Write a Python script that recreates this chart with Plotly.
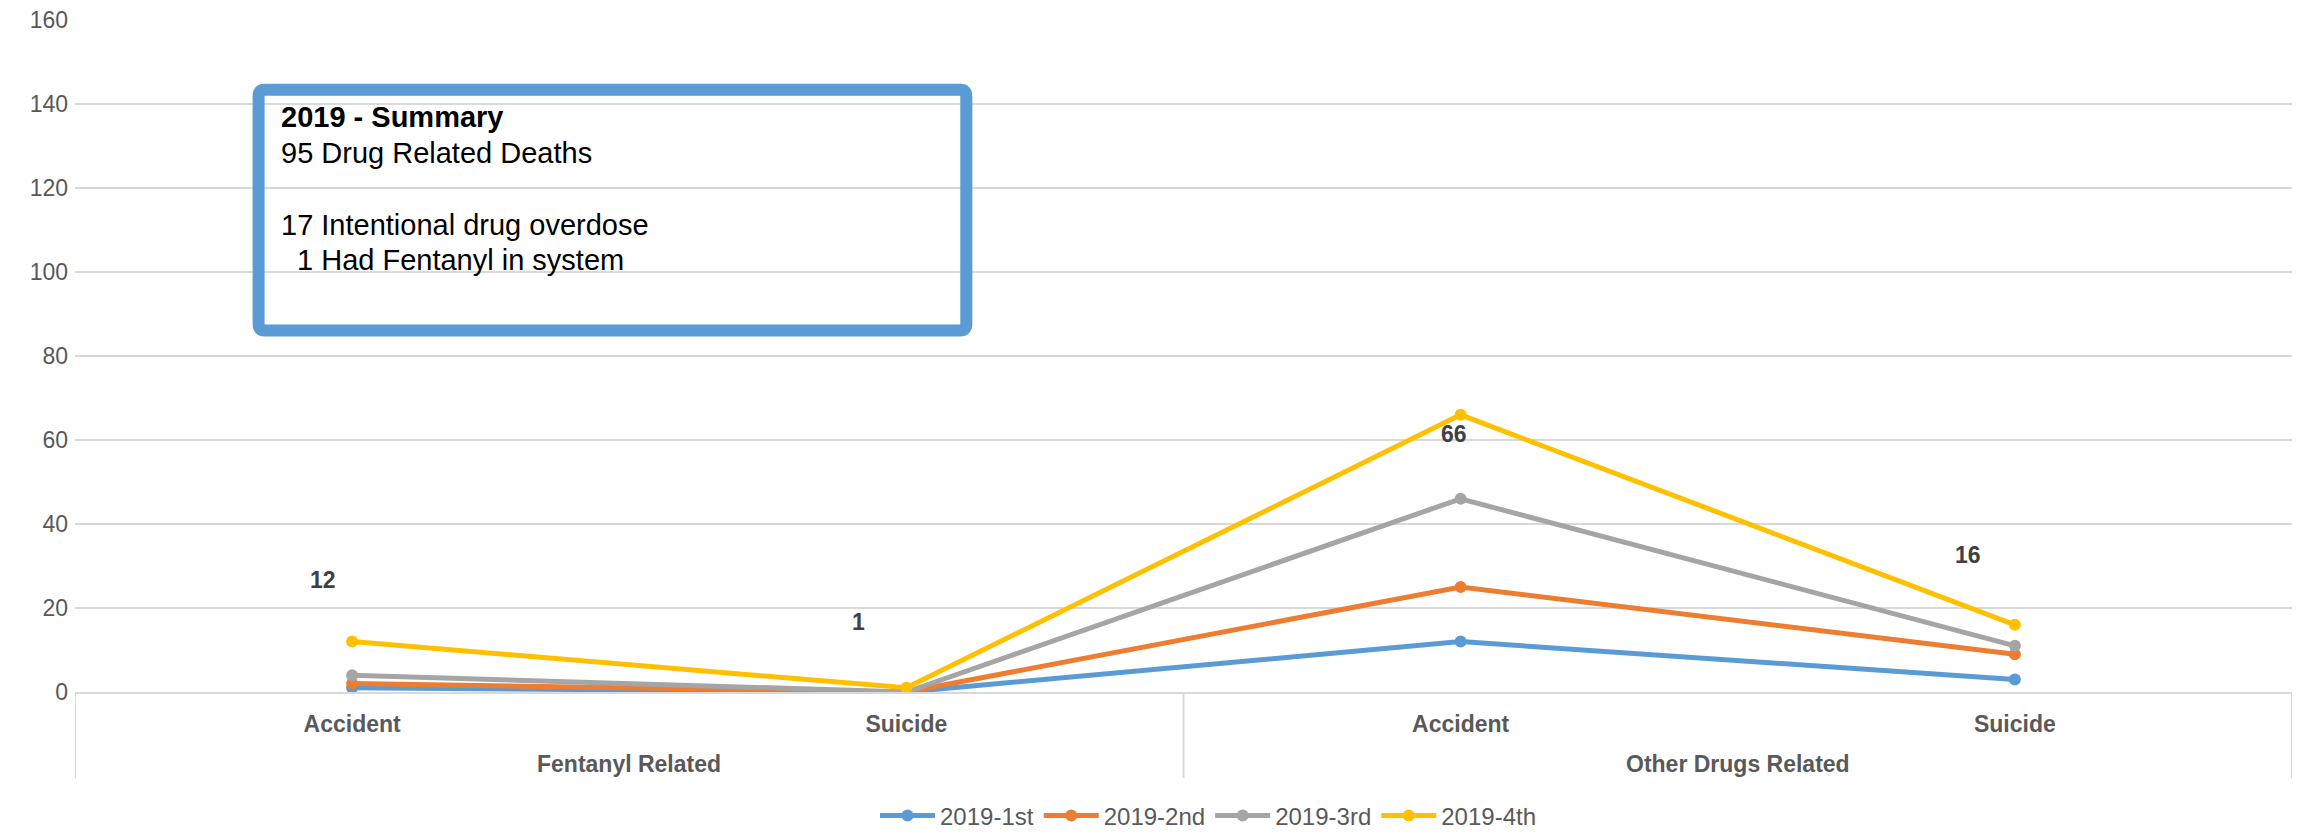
import plotly.graph_objects as go

groups = ["Fentanyl Related", "Other Drugs Related"]
categories = ["Accident", "Suicide", "Accident", "Suicide"]
series_names = ["2019-1st", "2019-2nd", "2019-3rd", "2019-4th"]
q1 = [1, 0, 12, 3]
q2 = [2, 0, 25, 9]
q3 = [4, 0, 46, 11]
q4 = [12, 1, 66, 16]
colors = ["#5B9BD5", "#ED7D31", "#A5A5A5", "#FFC000"]
y_ticks = [0, 20, 40, 60, 80, 100, 120, 140, 160]

summary_lines = ["<b>2019 - Summary</b>", "95 Drug Related Deaths",
                 "17 Intentional drug overdose", "1 Had Fentanyl in system"]

FONT = "Liberation Sans, Arial, sans-serif"
GRID = "#D9D9D9"
TXT = "#595959"

W, H = 2303, 834
ML, MR, MT, MB = 75, 11, 20, 142
PW, PH = W - ML - MR, H - MT - MB


def px_x(p):
    return (p - ML) / PW


def px_y(p):
    return (H - MB - p) / PH


x_idx = list(range(len(categories)))

fig = go.Figure()
for name, vals, col in zip(series_names, [q1, q2, q3, q4], colors):
    fig.add_trace(go.Scatter(
        x=x_idx, y=vals, name=name, mode="lines+markers",
        line=dict(color=col, width=5), marker=dict(color=col, size=12),
    ))

# data labels for 2019-4th (Excel-style placement)
label_offsets = [(-29, 62), (-48, 66), (-7, -19), (-47, 70)]
for i, (v, (dx, dy)) in enumerate(zip(q4, label_offsets)):
    fig.add_annotation(x=i, y=v, xref="x", yref="y", text=f"<b>{v}</b>",
                       showarrow=False, xshift=dx, yshift=dy,
                       font=dict(family=FONT, size=23, color="#404040"))

# group labels and dividers of the two-level category axis
n_per_group = len(categories) // len(groups)
for gi, g in enumerate(groups):
    center = gi * n_per_group + (n_per_group - 1) / 2
    fig.add_annotation(x=center, y=px_y(764), xref="x", yref="paper", text=f"<b>{g}</b>",
                       showarrow=False, yanchor="middle",
                       font=dict(family=FONT, size=23, color=TXT))
for k in range(len(groups) + 1):
    xd = k * n_per_group - 0.5
    fig.add_shape(type="line", xref="x", yref="paper", x0=xd, x1=xd,
                  y0=0, y1=px_y(778), line=dict(color=GRID, width=2))

# summary box with slightly rounded corners
x0, x1 = px_x(258.6), px_x(966.3)
y0, y1 = px_y(330.4), px_y(89.7)
rx, ry = 6 / PW, 6 / PH
path = (f"M {x0+rx},{y1} L {x1-rx},{y1} Q {x1},{y1} {x1},{y1-ry} "
        f"L {x1},{y0+ry} Q {x1},{y0} {x1-rx},{y0} L {x0+rx},{y0} "
        f"Q {x0},{y0} {x0},{y0+ry} L {x0},{y1-ry} Q {x0},{y1} {x0+rx},{y1} Z")
fig.add_shape(type="path", path=path, xref="paper", yref="paper",
              line=dict(color="#5B9BD5", width=12), fillcolor="rgba(0,0,0,0)",
              layer="above")
line_y = [117, 153, 225, 260]
line_xs = [0, 0, 0, 16]
for txt, yy, xs in zip(summary_lines, line_y, line_xs):
    fig.add_annotation(x=px_x(279), y=px_y(yy), xref="paper", yref="paper", text=txt,
                       showarrow=False, xanchor="left", yanchor="middle", xshift=xs,
                       font=dict(family=FONT, size=29, color="#000000"))

fig.update_layout(
    width=W, height=H,
    margin=dict(l=ML, r=MR, t=MT, b=MB, autoexpand=False),
    plot_bgcolor="white", paper_bgcolor="white",
    font=dict(family=FONT, size=23, color=TXT),
    showlegend=True,
    legend=dict(orientation="h", x=px_x(1208), xanchor="center",
                y=px_y(816), yanchor="middle",
                font=dict(family=FONT, size=24, color=TXT), itemwidth=55),
    xaxis=dict(range=[-0.5, len(categories) - 0.5], tickvals=x_idx, ticktext=categories,
               showgrid=False, showline=True, linecolor=GRID, linewidth=2, zeroline=False,
               ticks="", ticklabelstandoff=10, automargin=False,
               tickfont=dict(family=FONT, size=23, color=TXT, weight="bold")),
    yaxis=dict(range=[0, 160], tickvals=y_ticks, showgrid=True, gridcolor=GRID,
               gridwidth=2, zeroline=False, showline=False, automargin=False,
               tickfont=dict(family=FONT, size=23, color=TXT), ticklabelstandoff=6),
)

fig.write_html("out.html", config={"displayModeBar": False},
               post_script="document.body.style.margin='0px';document.body.style.overflow='hidden';")
